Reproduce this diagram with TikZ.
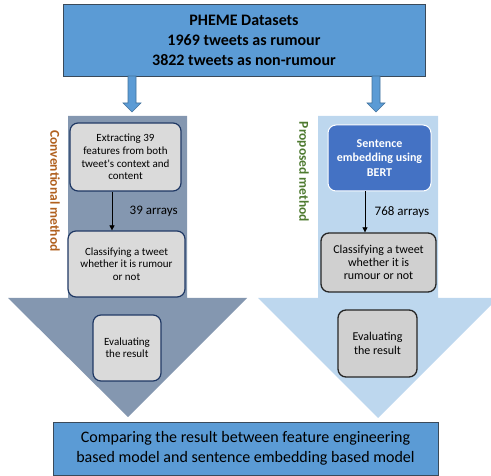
\documentclass[tikz,border=0pt]{standalone}
\usepackage{fontspec}
\setmainfont{Carlito}
\usetikzlibrary{arrows.meta}
\definecolor{topblue}{HTML}{5B9BD5}
\definecolor{topedge}{HTML}{3A4A5A}
\definecolor{smalledge}{HTML}{41719C}
\definecolor{convarrow}{HTML}{8497B0}
\definecolor{proparrow}{HTML}{BDD7EE}
\definecolor{boxgray}{HTML}{DADADA}
\definecolor{boxgraydk}{HTML}{D0D0D0}
\definecolor{navy}{HTML}{1F3864}
\definecolor{bertblue}{HTML}{4472C4}
\definecolor{convtext}{HTML}{B0601E}
\definecolor{proptext}{HTML}{4E7A30}
\begin{document}
\begin{tikzpicture}[x=1pt,y=-1pt,
  bigbox/.style={draw=topedge,line width=0.8pt,fill=topblue,align=center,inner sep=0pt,anchor=center},
  convbox/.style={draw=navy,line width=1.2pt,fill=boxgray,rounded corners=8pt,align=center,inner sep=0pt},
  propbox/.style={draw=black!85,line width=1.3pt,fill=boxgraydk,rounded corners=8pt,align=center,inner sep=0pt},
  flow/.style={-{Triangle[length=5pt,width=5pt]},line width=0.7pt,black}
]
\useasboundingbox (0,0) rectangle (491,476);
% big arrows
\fill[convarrow] (68,116) -- (187,116) -- (187,298) -- (247,298) -- (128,417) -- (8,298) -- (68,298) -- cycle;
\fill[proparrow] (318,116) -- (438,116) -- (438,298) -- (498,298) -- (378,418) -- (258,298) -- (318,298) -- cycle;
% top box
\node[bigbox,minimum width=362pt,minimum height=72pt,font=\fontsize{16}{20}\selectfont\bfseries] (top) at (244,40)
  {PHEME Datasets\\1969 tweets as rumour\\3822 tweets as non-rumour};
% small block arrows
\coordinate (la) at (132,76);
\coordinate (ra) at (376,76);
\draw[smalledge,fill=topblue,line width=0.6pt] ([xshift=-4pt]la) -- ([xshift=4pt]la) -- ([xshift=4pt,yshift=-27pt]la) -- ([xshift=9pt,yshift=-27pt]la) -- ([yshift=-36pt]la) -- ([xshift=-9pt,yshift=-27pt]la) -- ([xshift=-4pt,yshift=-27pt]la) -- cycle;
\draw[smalledge,fill=topblue,line width=0.6pt] ([xshift=-4pt]ra) -- ([xshift=4pt]ra) -- ([xshift=4pt,yshift=-27pt]ra) -- ([xshift=9pt,yshift=-27pt]ra) -- ([yshift=-36pt]ra) -- ([xshift=-9pt,yshift=-27pt]ra) -- ([xshift=-4pt,yshift=-27pt]ra) -- cycle;
% side labels
\node[rotate=-90,text=convtext,font=\fontsize{13.5}{16}\selectfont\bfseries] (convlab) at (55,191) {Conventional method};
\node[rotate=-90,text=proptext,font=\fontsize{13.5}{16}\selectfont\bfseries] (proplab) at (303,172) {Proposed method};
% conventional boxes
\node[convbox,minimum width=111pt,minimum height=68pt,font=\fontsize{11}{12.8}\selectfont] (ext) at (125.5,157)
  {Extracting 39\\features from both\\tweet\textquotesingle s context and\\content};
\node[convbox,minimum width=117pt,minimum height=66pt,font=\fontsize{11}{12.5}\selectfont] (clsl) at (126.5,264)
  {Classifying a tweet\\whether it is rumour\\or not};
\node[convbox,minimum width=68pt,minimum height=66pt,font=\fontsize{11}{11.8}\selectfont] (evl) at (127,348)
  {Evaluating\\the result};
\draw[flow] (ext.south -| 112,0) -- node[right=14pt,font=\fontsize{13}{15}\selectfont,black] (la39) {39 arrays} (clsl.north -| 112,0);
% proposed boxes
\node[draw=white,line width=1pt,fill=bertblue,rounded corners=8pt,align=center,inner sep=0pt,text=white,
  minimum width=103pt,minimum height=66pt,font=\fontsize{12}{14.3}\selectfont\bfseries] (bert) at (379.5,158)
  {Sentence\\embedding using\\BERT};
\node[propbox,minimum width=115pt,minimum height=59pt,font=\fontsize{12}{13.3}\selectfont] (clsr) at (378.5,262.5)
  {Classifying a tweet\\whether it is\\rumour or not};
\node[propbox,minimum width=79pt,minimum height=67pt,font=\fontsize{12}{13.5}\selectfont] (evr) at (377.5,343.5)
  {Evaluating\\the result};
\draw[flow] (bert.south -| 365,0) -- node[right=6pt,font=\fontsize{13}{15}\selectfont,black] (la768) {768 arrays} (clsr.north -| 365,0);
% bottom box
\node[bigbox,minimum width=385pt,minimum height=53pt,font=\fontsize{16}{20}\selectfont] (bot) at (245.5,448.5)
  {Comparing the result between feature engineering\\based model and sentence embedding based model};
\end{tikzpicture}
\end{document}
